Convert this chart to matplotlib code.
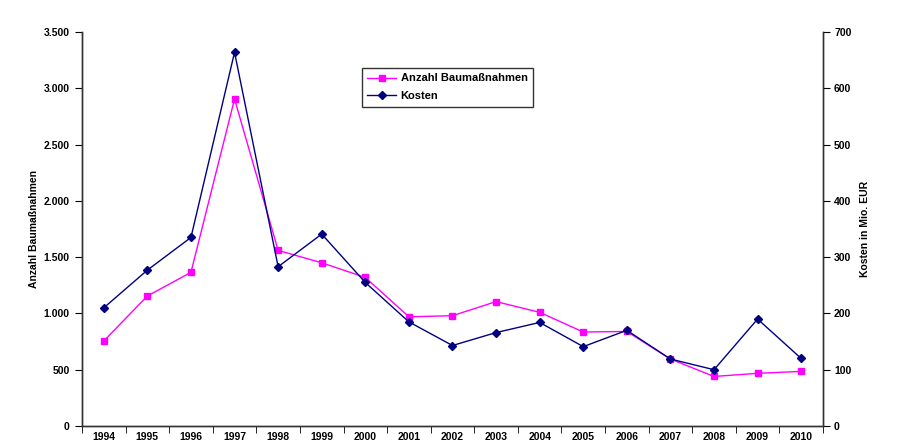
import matplotlib.pyplot as plt
from matplotlib.ticker import FuncFormatter

years = [str(y) for y in range(1994, 2011)]
anzahl = [755, 1155, 1365, 2905, 1560, 1450, 1320, 970, 980, 1105, 1010, 835, 840, 595, 440, 468, 485]
kosten = [210, 277, 335, 664, 283, 341, 255, 185, 143, 166, 184, 141, 170, 119, 100, 190, 120]

plt.rcParams['font.family'] = ['Liberation Sans', 'DejaVu Sans']
plt.rcParams['font.weight'] = 'bold'
plt.rcParams['axes.labelweight'] = 'bold'
plt.rcParams['font.size'] = 7.5

fig = plt.figure(figsize=(9.01, 4.45), dpi=100)
ax = fig.add_axes([0.091, 0.0427, 0.8224, 0.8853])
ax2 = ax.twinx()

x = list(range(len(years)))
l1, = ax.plot(x, anzahl, color='#FF00FF', marker='s', markersize=5, linewidth=1,
              label='Anzahl Baumaßnahmen')
l2, = ax2.plot(x, kosten, color='#000080', marker='D', markersize=4, linewidth=1,
               label='Kosten')

# german thousands separator
fmt = FuncFormatter(lambda v, p: f'{int(v):,}'.replace(',', '.'))
ax.set_ylim(0, 3500)
ax.set_yticks(range(0, 3501, 500))
ax.yaxis.set_major_formatter(fmt)
ax2.set_ylim(0, 700)
ax2.set_yticks(range(0, 701, 100))

ax.set_xlim(-0.5, len(years) - 0.5)
ax.set_xticks(x)
ax.set_xticklabels(years)
ax.set_xticks([i + 0.5 for i in range(-1, len(years))], minor=True)
ax.tick_params(axis='x', which='major', length=0, pad=4)
ax.tick_params(axis='x', which='minor', length=5, direction='out')
ax.tick_params(axis='y', length=5, direction='out', pad=4)
ax2.tick_params(axis='y', length=5, direction='out', pad=3)

for a in (ax, ax2):
    a.spines['top'].set_visible(False)
    for s in a.spines.values():
        s.set_linewidth(1)
        s.set_color('#333333')

ax.set_ylabel('Anzahl Baumaßnahmen', labelpad=3)
ax2.set_ylabel('Kosten in Mio. EUR', rotation=90, labelpad=6)

leg = ax.legend(handles=[l1, l2], loc='upper left', bbox_to_anchor=(0.37, 0.923),
                frameon=True, fancybox=False, fontsize=8, handlelength=2.6,
                borderpad=0.5, labelspacing=0.7, handletextpad=0.4)
leg.get_frame().set_edgecolor('black')
leg.get_frame().set_linewidth(1)

fig.savefig('out.png', dpi=100)
